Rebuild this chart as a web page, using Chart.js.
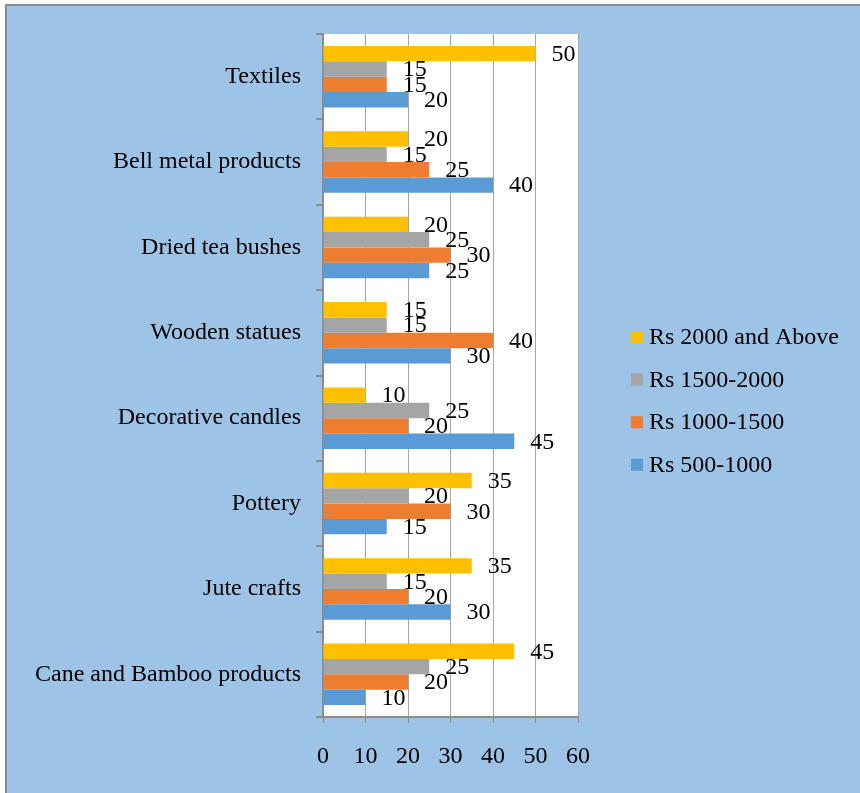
<!DOCTYPE html>
<html>
<head>
<meta charset="utf-8">
<script src="https://cdn.jsdelivr.net/npm/chart.js@4/dist/chart.umd.min.js"></script>
<style>
  html, body { margin: 0; padding: 0; background: #fff; }
  #marco {
    position: absolute; left: 5px; top: 4px; right: 0; bottom: 0;
    background: #9dc3e6;
    border-left: 2px solid #8c8c8c;
    border-top: 2px solid #8c8c8c;
  }
  #lienzo { position: absolute; left: 0; top: 0; }
</style>
</head>
<body>
<div id="marco"></div>
<canvas id="lienzo" width="860" height="793"></canvas>
<script>
// Productos artesanales y cantidad por rango de precio
const productos = [
  "Textiles",
  "Bell metal products",
  "Dried tea bushes",
  "Wooden statues",
  "Decorative candles",
  "Pottery",
  "Jute crafts",
  "Cane and Bamboo products",
]
const rs2000ymas = [50, 20, 20, 15, 10, 35, 35, 45]
const rs1500a2000 = [15, 15, 25, 15, 25, 20, 15, 25]
const rs1000a1500 = [15, 25, 30, 40, 20, 30, 20, 20]
const rs500a1000 = [20, 40, 25, 30, 45, 15, 30, 10]
const ticksX = [0, 10, 20, 30, 40, 50, 60]

const colores = {
  amarillo: "#ffc000",
  gris: "#a5a5a5",
  naranja: "#ed7d31",
  azul: "#5b9bd5",
  eje: "#8c8c8c",
  rejilla: "#a6a6a6",
}
const fuente = "Liberation Serif"

// Fondo blanco solo en el área de trazado
const fondoArea = {
  id: "fondoArea",
  beforeDraw(chart) {
    const { ctx, chartArea: a } = chart
    ctx.save()
    ctx.fillStyle = "#fff"
    ctx.fillRect(a.left, a.top, a.right - a.left, a.bottom - a.top)
    ctx.restore()
  },
}

// Valor escrito al final de cada barra
const etiquetasValor = {
  id: "etiquetasValor",
  afterDatasetsDraw(chart) {
    const ctx = chart.ctx
    ctx.save()
    ctx.font = `24px "${fuente}"`
    ctx.fillStyle = "#000"
    ctx.textAlign = "left"
    ctx.textBaseline = "middle"
    chart.data.datasets.forEach((ds, i) => {
      chart.getDatasetMeta(i).data.forEach((barra, j) => {
        ctx.fillText(String(ds.data[j]), barra.x + 16, barra.y + 1)
      })
    })
    ctx.restore()
  },
}

// Leyenda a la derecha
const leyendaLateral = {
  id: "leyendaLateral",
  afterDraw(chart) {
    const ctx = chart.ctx
    ctx.save()
    ctx.font = `24px "${fuente}"`
    ctx.textBaseline = "middle"
    ctx.textAlign = "left"
    chart.data.datasets.forEach((ds, i) => {
      const y = 337 + i * 42.6
      ctx.fillStyle = ds.backgroundColor
      ctx.fillRect(631, y - 6, 12, 12)
      ctx.fillStyle = "#000"
      ctx.fillText(ds.label, 649, y + 1)
    })
    ctx.restore()
  },
}

const serie = (label, data, color) => ({
  label,
  data,
  backgroundColor: color,
  borderWidth: 0,
  categoryPercentage: 0.72,
  barPercentage: 1.0,
})

new Chart(document.getElementById("lienzo"), {
  type: "bar",
  data: {
    labels: productos,
    datasets: [
      serie("Rs 2000 and Above", rs2000ymas, colores.amarillo),
      serie("Rs 1500-2000", rs1500a2000, colores.gris),
      serie("Rs 1000-1500", rs1000a1500, colores.naranja),
      serie("Rs 500-1000", rs500a1000, colores.azul),
    ],
  },
  options: {
    indexAxis: "y",
    responsive: false,
    animation: false,
    layout: { padding: { top: 34, right: 282, bottom: 0, left: 0 } },
    plugins: {
      legend: { display: false },
      tooltip: { enabled: false },
    },
    scales: {
      x: {
        min: 0,
        max: 60,
        afterBuildTicks: (scale) => {
          scale.ticks = ticksX.map((v) => ({ value: v }))
        },
        afterFit: (scale) => {
          scale.height = 76
        },
        ticks: {
          color: "#000",
          padding: 19,
          font: { family: fuente, size: 24 },
        },
        grid: {
          color: colores.rejilla,
          tickColor: colores.eje,
          tickLength: 6,
          lineWidth: 1,
        },
        border: { display: true, color: colores.eje, width: 2 },
      },
      y: {
        afterFit: (scale) => {
          scale.width = 323
        },
        ticks: {
          color: "#000",
          padding: 15,
          font: { family: fuente, size: 24 },
        },
        grid: {
          offset: true,
          drawOnChartArea: false,
          tickColor: colores.eje,
          tickLength: 7,
          lineWidth: 2,
        },
        border: { display: true, color: colores.eje, width: 2 },
      },
    },
  },
  plugins: [fondoArea, etiquetasValor, leyendaLateral],
})
</script>
</body>
</html>
